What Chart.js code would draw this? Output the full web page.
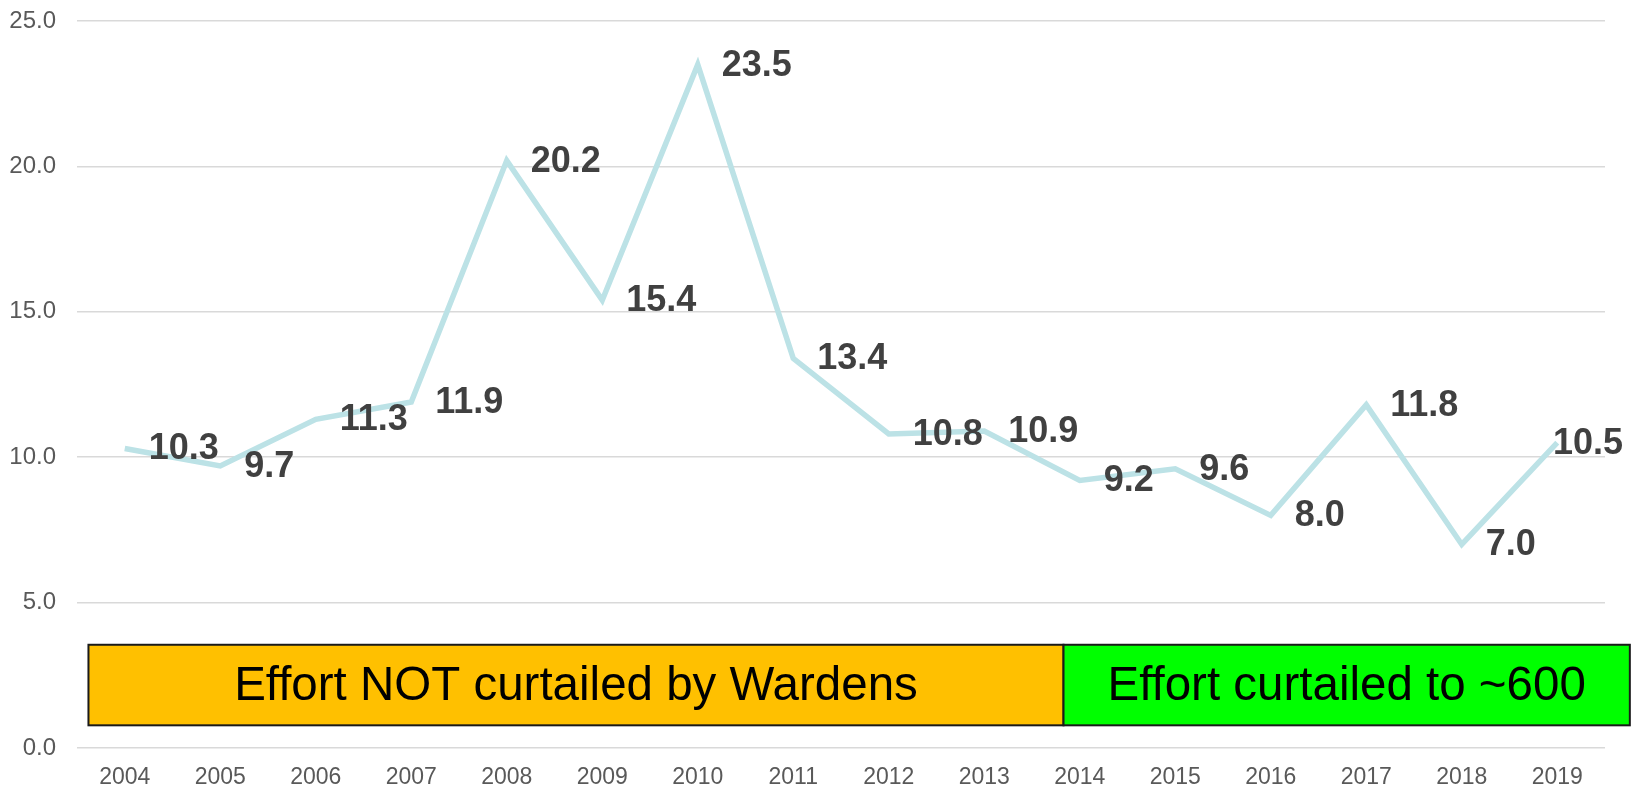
<!DOCTYPE html>
<html>
<head>
<meta charset="utf-8">
<script src="https://cdn.jsdelivr.net/npm/chart.js@4/dist/chart.umd.min.js"></script>
<style>
  html, body { margin: 0; padding: 0; background: #fff; }
  #wrap { width: 1633px; height: 789px; }
</style>
</head>
<body>
<div id="wrap"><canvas id="chart" width="1633" height="789"></canvas></div>
<script>
const years = ['2004', '2005', '2006', '2007', '2008', '2009', '2010', '2011',
  '2012', '2013', '2014', '2015', '2016', '2017', '2018', '2019'];
const values = [10.3, 9.7, 11.3, 11.9, 20.2, 15.4, 23.5, 13.4,
  10.8, 10.9, 9.2, 9.6, 8.0, 11.8, 7.0, 10.5];
const yTicks = [0, 5, 10, 15, 20, 25];
const phaseLabels = ['Effort NOT curtailed by Wardens', 'Effort curtailed to ~600'];

const FONT = "'Liberation Sans', Arial, sans-serif";

// подписи значений справа от точек
const valueLabels = {
  id: 'valueLabels',
  afterDatasetsDraw(chart) {
    const ctx = chart.ctx;
    const meta = chart.getDatasetMeta(0);
    ctx.save();
    ctx.font = 'bold 36px ' + FONT;
    ctx.fillStyle = '#404040';
    ctx.textBaseline = 'middle';
    ctx.textAlign = 'left';
    meta.data.forEach((pt, i) => {
      const txt = values[i].toFixed(1);
      const w = ctx.measureText(txt).width;
      let x = pt.x + 24;
      if (x + w > chart.width - 10) x = chart.width - 10 - w;
      ctx.fillText(txt, x, pt.y + 1);
    });
    ctx.restore();
  }
};

// плашки периодов
const phaseBoxes = {
  id: 'phaseBoxes',
  afterDatasetsDraw(chart, args, opts) {
    const ctx = chart.ctx;
    const xs = chart.scales.x;
    const ys = chart.scales.y;
    const top = ys.getPixelForValue(opts.yTop);
    const bottom = ys.getPixelForValue(opts.yBottom);
    ctx.save();
    opts.boxes.forEach((b, i) => {
      const left = xs.getPixelForValue(b.from);
      const right = xs.getPixelForValue(b.to);
      ctx.fillStyle = b.color;
      ctx.fillRect(left, top, right - left, bottom - top);
      ctx.lineWidth = 2;
      ctx.strokeStyle = '#1a1a1a';
      ctx.strokeRect(left, top, right - left, bottom - top);
      ctx.fillStyle = '#000';
      ctx.font = '47.5px ' + FONT;
      ctx.textAlign = 'center';
      ctx.textBaseline = 'middle';
      ctx.fillText(phaseLabels[i], (left + right) / 2, (top + bottom) / 2 + 2);
    });
    ctx.restore();
  }
};

new Chart(document.getElementById('chart'), {
  type: 'line',
  data: {
    labels: years,
    datasets: [{
      data: values,
      borderColor: '#bce2e6',
      borderWidth: 5.5,
      pointRadius: 0,
      tension: 0,
      fill: false
    }]
  },
  options: {
    responsive: false,
    animation: false,
    layout: { padding: { top: 0, right: 28, left: 0, bottom: 0 } },
    plugins: {
      legend: { display: false },
      tooltip: { enabled: false },
      phaseBoxes: {
        yTop: 3.55,
        yBottom: 0.78,
        boxes: [
          { from: -0.38, to: 9.83, color: '#ffc000' },
          { from: 9.83, to: 15.76, color: '#00ff00' }
        ]
      }
    },
    scales: {
      x: {
        offset: true,
        grid: { display: false },
        border: { display: false },
        ticks: {
          color: '#595959',
          font: { family: FONT, size: 23 },
          padding: 8,
          maxRotation: 0,
          autoSkip: false
        },
        afterFit(scale) { scale.height = 41; }
      },
      y: {
        min: 0,
        max: 25,
        grid: { color: '#d9d9d9', lineWidth: 1.5, drawTicks: false },
        border: { display: false },
        afterBuildTicks(scale) { scale.ticks = yTicks.map(v => ({ value: v })); },
        ticks: {
          color: '#595959',
          font: { family: FONT, size: 24 },
          padding: 21,
          callback: v => v.toFixed(1)
        },
        afterFit(scale) {
          scale.width = 77;
          scale.paddingTop = 21;
        }
      }
    }
  },
  plugins: [valueLabels, phaseBoxes]
});
</script>
</body>
</html>
